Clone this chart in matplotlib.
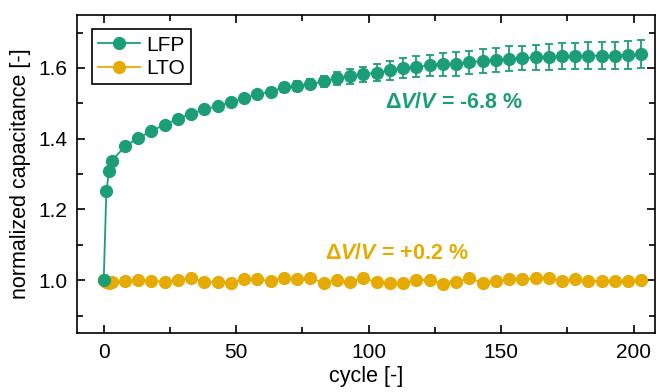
import matplotlib
matplotlib.use("Agg")
import matplotlib.pyplot as plt
from matplotlib.lines import Line2D
from matplotlib.ticker import MultipleLocator

plt.rcParams['font.family'] = ['Liberation Sans', 'DejaVu Sans']
plt.rcParams['mathtext.fontset'] = 'custom'
plt.rcParams['mathtext.rm'] = 'Liberation Sans:bold'
plt.rcParams['mathtext.it'] = 'Liberation Sans:italic:bold'
plt.rcParams['mathtext.bf'] = 'Liberation Sans:bold'

# LFP cells
lfp_cycle = [0, 1, 2, 3] + list(range(8, 204, 5))
lfp_cap = [1.000, 1.251, 1.308, 1.337,
           1.378, 1.402, 1.421, 1.440, 1.456, 1.470, 1.483, 1.492, 1.504, 1.514,
           1.526, 1.533, 1.545, 1.549, 1.554, 1.562,
           1.571, 1.576, 1.582, 1.587, 1.593, 1.599, 1.603, 1.607, 1.610, 1.611,
           1.616, 1.620, 1.622, 1.626, 1.628, 1.630, 1.631, 1.633, 1.633, 1.634,
           1.635, 1.635, 1.637, 1.639]
lfp_err = [0.0, 0.002, 0.003, 0.003,
           0.004, 0.004, 0.005, 0.005, 0.006, 0.006, 0.007, 0.007, 0.008, 0.009,
           0.010, 0.011, 0.012, 0.013, 0.014, 0.016,
           0.018, 0.020, 0.022, 0.024, 0.026, 0.028, 0.030, 0.031, 0.032, 0.033,
           0.033, 0.034, 0.034, 0.035, 0.035, 0.036, 0.036, 0.037, 0.037, 0.038,
           0.038, 0.039, 0.039, 0.040]

# LTO cells
lto_cycle = [0, 1, 2, 3] + list(range(8, 204, 5))
lto_cap = [1.000, 0.995, 0.993, 0.994,
           0.998, 1.001, 0.998, 0.996, 1.000, 1.006, 0.996, 0.995, 0.993, 1.004,
           1.002, 0.998, 1.006, 1.002, 1.005, 0.993,
           1.000, 0.995, 1.006, 0.994, 0.992, 0.991, 1.001, 1.000, 0.990, 0.995,
           1.005, 0.993, 0.998, 1.002, 1.002, 1.005, 1.006, 0.997, 1.003, 0.997,
           0.998, 0.997, 0.998, 1.000]
lto_err = [0.0, 0.002, 0.002, 0.002] + [0.003] * 31 + [0.010, 0.012] + [0.003] * 7

green = '#1b9e77'
yellow = '#e6ab02'

fig = plt.figure(figsize=(6.6, 3.92), dpi=100)
ax = fig.add_axes([0.117, 0.150, 0.875, 0.812])

ax.errorbar(lto_cycle, lto_cap, yerr=lto_err, color=yellow, marker='o',
            markersize=8.5, lw=1.3, capsize=3, elinewidth=1.3, capthick=1.3,
            zorder=2)
ax.errorbar(lfp_cycle, lfp_cap, yerr=lfp_err, color=green, marker='o',
            markersize=8.5, lw=1.3, capsize=3, elinewidth=1.3, capthick=1.3,
            zorder=3)

ax.text(106, 1.503, r'$\Delta\mathit{V/V}$ = -6.8 %', color=green,
        fontsize=15.5, fontweight='bold', va='center')
ax.text(83.5, 1.074, r'$\Delta\mathit{V/V}$ = +0.2 %', color=yellow,
        fontsize=15.5, fontweight='bold', va='center')

ax.set_xlim(-10, 208)
ax.set_ylim(0.85, 1.75)
ax.xaxis.set_major_locator(MultipleLocator(50))
ax.xaxis.set_minor_locator(MultipleLocator(25))
ax.yaxis.set_major_locator(MultipleLocator(0.2))
ax.yaxis.set_minor_locator(MultipleLocator(0.1))
ax.tick_params(which='both', direction='in', top=True, right=True,
               labelsize=15, width=1.2)
ax.tick_params(which='major', length=6, pad=7)
ax.tick_params(which='minor', length=4)
for sp in ax.spines.values():
    sp.set_linewidth(1.2)

ax.set_xlabel('cycle [-]', fontsize=15.5, labelpad=3)
ax.set_ylabel('normalized capacitance [-]', fontsize=15.5, labelpad=5)

handles = [Line2D([], [], color=green, marker='o', markersize=8.5, lw=1.3),
           Line2D([], [], color=yellow, marker='o', markersize=8.5, lw=1.3)]
leg = ax.legend(handles, ['LFP', 'LTO'], loc='upper left', fontsize=15,
                fancybox=False, edgecolor='black', framealpha=1,
                borderaxespad=0.7, handlelength=2.0, labelspacing=0.2,
                handletextpad=0.3, borderpad=0.3)
leg.get_frame().set_linewidth(1.2)

fig.savefig('out.png', dpi=100)
